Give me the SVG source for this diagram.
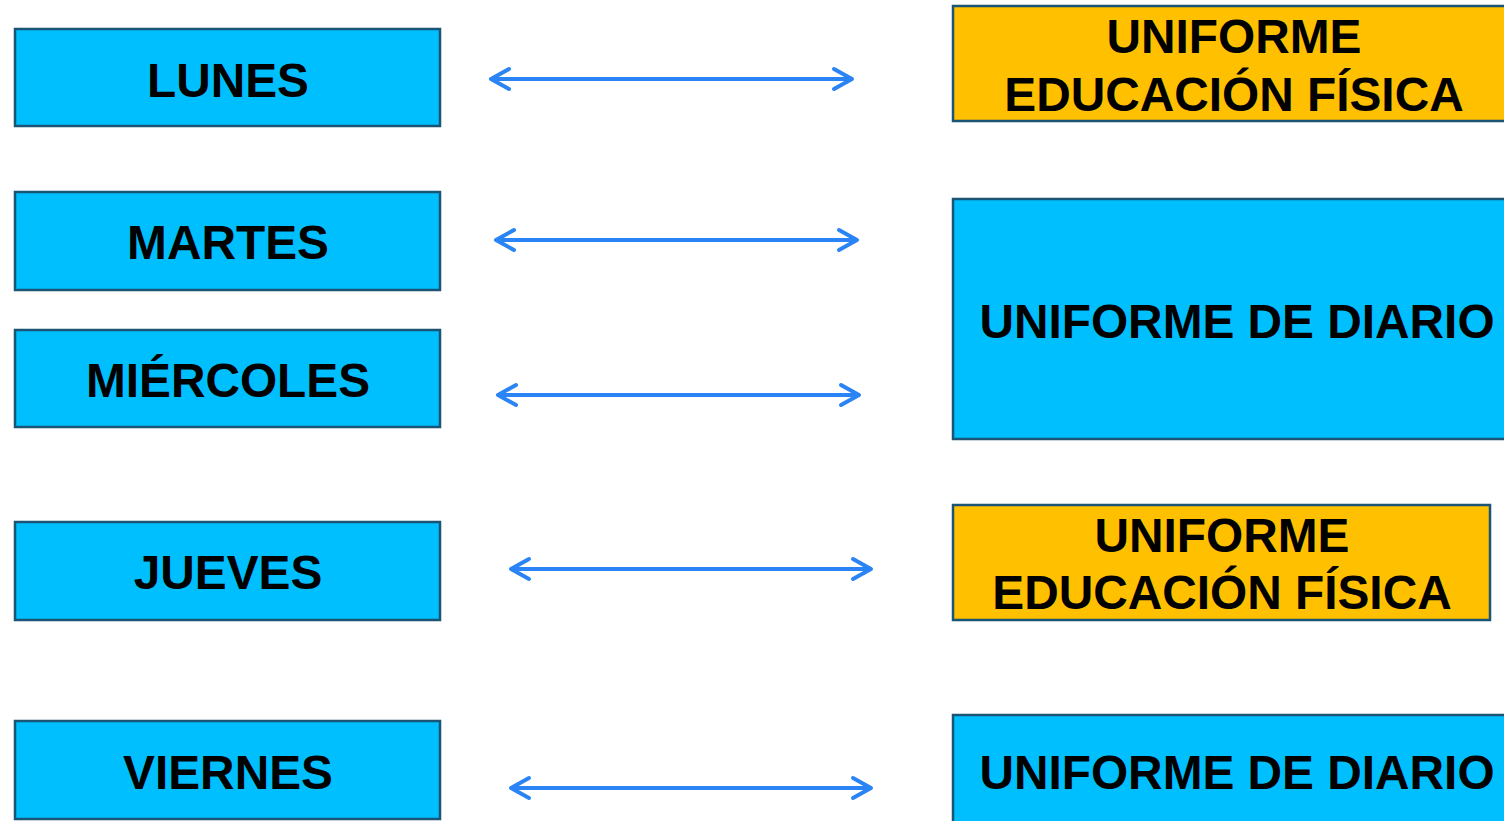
<svg xmlns="http://www.w3.org/2000/svg" width="1504" height="821" viewBox="0 0 1504 821">
<style>
.box{stroke:#1a5576;stroke-width:2.5}
.blue{fill:#00bfff}
.yellow{fill:#ffc000}
.t{font-family:"Liberation Sans",Arial,sans-serif;font-weight:bold;font-size:47.8px;fill:#000;text-anchor:middle}
.conn{stroke:#2a84f5;stroke-width:4;fill:none;marker-start:url(#ah);marker-end:url(#ah)}
</style>
<defs>
<marker id="ah" markerUnits="userSpaceOnUse" markerWidth="30" markerHeight="30" viewBox="-25 -15 30 30" refX="0" refY="0" orient="auto-start-reverse">
<path d="M-18,-10 L0,0 L-18,10" fill="none" stroke="#2a84f5" stroke-width="4" stroke-linecap="round" stroke-linejoin="round"/>
</marker>
</defs>
<g id="lunes"><rect class="box blue" x="15" y="29" width="425" height="97"/><text class="t" x="228" y="97">LUNES</text></g>
<g id="martes"><rect class="box blue" x="15" y="192" width="425" height="98"/><text class="t" x="228" y="259">MARTES</text></g>
<g id="miercoles"><rect class="box blue" x="15" y="330" width="425" height="97"/><text class="t" x="228" y="397">MIÉRCOLES</text></g>
<g id="jueves"><rect class="box blue" x="15" y="522" width="425" height="98"/><text class="t" x="228" y="589">JUEVES</text></g>
<g id="viernes"><rect class="box blue" x="15" y="721" width="425" height="98"/><text class="t" x="228" y="789">VIERNES</text></g>
<g id="uef1"><rect class="box yellow" x="953" y="6" width="560" height="115"/><text class="t" x="1234" y="53">UNIFORME</text><text class="t" x="1234" y="111">EDUCACIÓN FÍSICA</text></g>
<g id="diario1"><rect class="box blue" x="953" y="199" width="560" height="240"/><text class="t" x="1237" y="338">UNIFORME DE DIARIO</text></g>
<g id="uef2"><rect class="box yellow" x="953" y="505" width="537" height="115"/><text class="t" x="1222" y="552">UNIFORME</text><text class="t" x="1222" y="609">EDUCACIÓN FÍSICA</text></g>
<g id="diario2"><rect class="box blue" x="953" y="715" width="560" height="120"/><text class="t" x="1237" y="789">UNIFORME DE DIARIO</text></g>
<g id="connectors">
<line class="conn" x1="491" y1="79" x2="852" y2="79"/>
<line class="conn" x1="496" y1="240" x2="857" y2="240"/>
<line class="conn" x1="498" y1="395" x2="859" y2="395"/>
<line class="conn" x1="511" y1="569" x2="871" y2="569"/>
<line class="conn" x1="511" y1="788" x2="871" y2="788"/>
</g>
</svg>
